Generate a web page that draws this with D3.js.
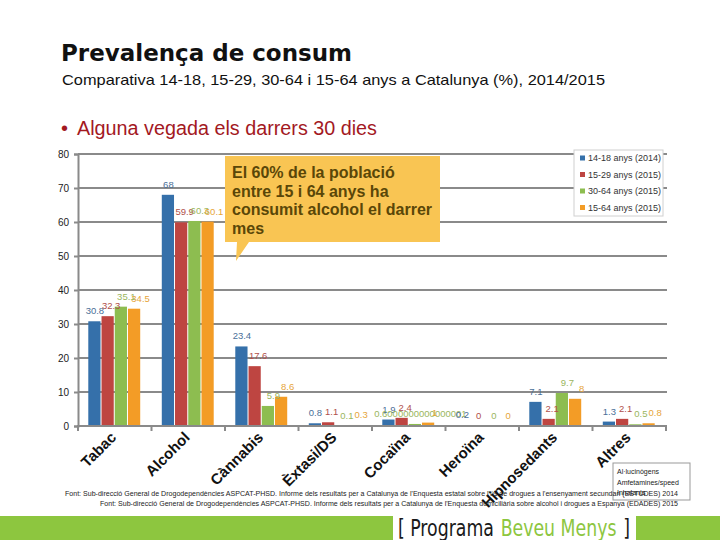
<!DOCTYPE html>
<html><head><meta charset="utf-8">
<script src="https://cdn.jsdelivr.net/npm/d3@7"></script>
<style>body{margin:0;background:#fff}svg{display:block}</style>
</head><body>
<script>
// ---- data ----
const categories = ["Tabac","Alcohol","Cànnabis","Èxtasi/DS","Cocaïna","Heroïna","Hipnosedants","Altres"];
const seriesNames = ["14-18 anys (2014)","15-29 anys (2015)","30-64 anys (2015)","15-64 anys (2015)"];
const values1418 = [30.8, 68, 23.4, 0.8, 1.9, 0.2, 7.1, 1.3];
const values1529 = [32.3, 59.9, 17.6, 1.1, 2.4, 0, 2.1, 2.1];
const values3064 = [35.1, 60.3, 5.9, 0.1, 0.6000000000000001, 0, 9.7, 0.5];
const values1564 = [34.5, 60.1, 8.6, 0.3, 1, 0, 8, 0.8];
const yTicks = [0,10,20,30,40,50,60,70,80];
const titleText = "Prevalença de consum";
const subtitleText = "Comparativa 14-18, 15-29, 30-64 i 15-64 anys a Catalunya (%), 2014/2015";
const bulletText = "Alguna vegada els darrers 30 dies";
const calloutLines = ["El 60% de la població","entre 15 i 64 anys ha","consumit alcohol el darrer","mes"];
const otherDrugs = ["Al·lucinògens","Amfetamines/speed","Inhalants"];
const sourceLines = [
 "Font: Sub-direcció General de Drogodependències ASPCAT-PHSD. Informe dels resultats per a Catalunya de l'Enquesta estatal sobre l'ús de drogues a l'ensenyament secundari (ESTUDES) 2014",
 "Font: Sub-direcció General de Drogodependències ASPCAT-PHSD. Informe dels resultats per a Catalunya de l'Enquesta domiciliària sobre alcohol i drogues a Espanya (EDADES) 2015"
];
const bannerParts = ["[ Programa","Beveu Menys","]"];

const seriesValues = [values1418, values1529, values3064, values1564];
const colors = ["#3570aa","#be4541","#8dbd50","#f39c26"];
const labelColors = ["#4a6f98","#b0504b","#9ab65e","#e6a53a"];
const labelShift = [0, 3, 5, 6];

const W = 720, H = 540;
const svg = d3.select("body").append("svg").attr("width",W).attr("height",H)
  .style("font-family","'Liberation Sans', Arial, sans-serif");

// titles
svg.append("text").attr("x",61).attr("y",61).text(titleText)
  .style("font-family","'DejaVu Sans', Verdana, sans-serif").style("font-weight","bold")
  .style("font-size","23px").attr("fill","#111").attr("textLength",291).attr("lengthAdjust","spacingAndGlyphs");
svg.append("text").attr("x",62).attr("y",85).text(subtitleText)
  .style("font-size","15px").attr("fill","#111").attr("textLength",543).attr("lengthAdjust","spacingAndGlyphs");
svg.append("text").attr("x",61).attr("y",135).text("•").style("font-size","20px").attr("fill","#a3191f");
svg.append("text").attr("x",77).attr("y",135).text(bulletText)
  .style("font-size","20px").attr("fill","#a3191f").attr("textLength",300).attr("lengthAdjust","spacingAndGlyphs");

// scales
const x0 = d3.scaleBand().domain(categories).range([78,666]).paddingInner(0.28).paddingOuter(0.14);
const x1 = d3.scaleBand().domain(d3.range(seriesNames.length)).range([0,x0.bandwidth()]);
const y = d3.scaleLinear().domain([0,80]).range([426,154]);

// gridlines
svg.append("g").selectAll("line").data(yTicks.filter(d=>d>0)).join("line")
  .attr("x1",78).attr("x2",667).attr("y1",d=>y(d)).attr("y2",d=>y(d))
  .attr("stroke","#8a8a8a").attr("stroke-width",2);

// y axis
const yAxis = svg.append("g").attr("transform","translate(78,0)")
  .call(d3.axisLeft(y).tickValues(yTicks).tickSize(4).tickPadding(5));
yAxis.select(".domain").attr("stroke","#8a8a8a").attr("stroke-width",2);
yAxis.selectAll(".tick line").attr("stroke","#8a8a8a").attr("stroke-width",2);
yAxis.selectAll(".tick text").style("font-size","10px").attr("fill","#222")
  .style("font-family","'Liberation Sans', Arial, sans-serif");

// bars
const groups = svg.append("g").selectAll("g").data(categories).join("g")
  .attr("transform",d=>`translate(${x0(d)},0)`);
groups.selectAll("rect").data((c,i)=>seriesValues.map((s,k)=>({k,v:s[i]}))).join("rect")
  .attr("x",d=>x1(d.k)).attr("width",x1.bandwidth()-1)
  .attr("y",d=>y(d.v)).attr("height",d=>y(0)-y(d.v))
  .attr("fill",d=>colors[d.k]);

// x axis
const xAxisG = svg.append("g").attr("transform","translate(0,426)");
xAxisG.append("line").attr("x1",77).attr("x2",667).attr("stroke","#8a8a8a").attr("stroke-width",2);
const bounds = categories.map(c=>x0(c)-x0.step()*x0.paddingInner()/2).concat([666]);
xAxisG.selectAll("line.t").data(bounds).join("line").attr("class","t")
  .attr("x1",d=>d).attr("x2",d=>d).attr("y1",0).attr("y2",5)
  .attr("stroke","#8a8a8a").attr("stroke-width",2);
xAxisG.selectAll("text").data(categories).join("text")
  .attr("transform",d=>`translate(${x0(d)+x0.bandwidth()/2-5},5) rotate(-45)`)
  .attr("text-anchor","end").attr("dy","0.7em")
  .style("font-size","15px").style("font-weight","bold").attr("fill","#111").text(d=>d);

// value labels
groups.selectAll("text").data((c,i)=>seriesValues.map((s,k)=>({k,v:s[i]}))).join("text")
  .attr("x",d=>x1(d.k)+x1.bandwidth()/2+labelShift[d.k]).attr("y",d=>y(d.v)-7)
  .attr("text-anchor","middle").style("font-size","9.5px").attr("fill",d=>labelColors[d.k])
  .text(d=>String(d.v));

// legend
const lg = svg.append("g");
lg.append("rect").attr("x",574).attr("y",150).attr("width",89).attr("height",66)
  .attr("fill","#fff").attr("stroke","#d0d0d0");
seriesNames.forEach((n,k)=>{
  const yy = 158 + k*16.5;
  lg.append("rect").attr("x",580).attr("y",yy-2.5).attr("width",5).attr("height",5).attr("fill",colors[k]);
  lg.append("text").attr("x",588).attr("y",yy).attr("dy","0.35em").text(n)
    .style("font-size","9px").attr("fill","#333").attr("textLength",73).attr("lengthAdjust","spacingAndGlyphs");
});

// callout
const co = svg.append("g");
co.append("path").attr("d","M225,156 H440 V242 H249 L236,261 L237,242 H225 Z").attr("fill","#f9c553");
calloutLines.forEach((t,i)=>{
  co.append("text").attr("x",232).attr("y",178+i*18.5).text(t)
    .style("font-size","16px").style("font-weight","bold").attr("fill","#5a4708");
});

// small box of other drugs
svg.append("rect").attr("x",613).attr("y",463).attr("width",77).attr("height",37)
  .attr("fill","#fff").attr("stroke","#999");
otherDrugs.forEach((t,i)=>{
  svg.append("text").attr("x",617).attr("y",472+i*10.5).attr("dy","0.35em").text(t)
    .style("font-size","7px").attr("fill","#222");
});

// sources
sourceLines.forEach((t,i)=>{
  svg.append("text").attr("x",678).attr("y",496+i*10).attr("text-anchor","end").text(t)
    .style("font-size","6.5px").attr("fill","#222")
    .attr("textLength", i===0?613:578).attr("lengthAdjust","spacingAndGlyphs");
});

// banner
svg.append("rect").attr("x",0).attr("y",516).attr("width",W).attr("height",24).attr("fill","#8dc63f");
svg.append("rect").attr("x",393).attr("y",513).attr("width",243).attr("height",27).attr("fill","#fff");
const bannerColors = ["#1a1a1a","#8dc63f","#1a1a1a"];
const bg = svg.append("g");
let bx = 0;
bannerParts.forEach((p,i)=>{
  const t = bg.append("text").attr("x",bx).attr("y",0).text(p)
    .style("font-family","'DejaVu Sans', Arial, sans-serif").style("font-stretch","condensed")
    .style("font-size","23px").attr("fill",bannerColors[i]);
  bx += t.node().getComputedTextLength() + 8;
});
const totalW = bx - 8;
bg.attr("transform",`translate(398,536) scale(${232/totalW},1)`);
</script>
</body></html>
